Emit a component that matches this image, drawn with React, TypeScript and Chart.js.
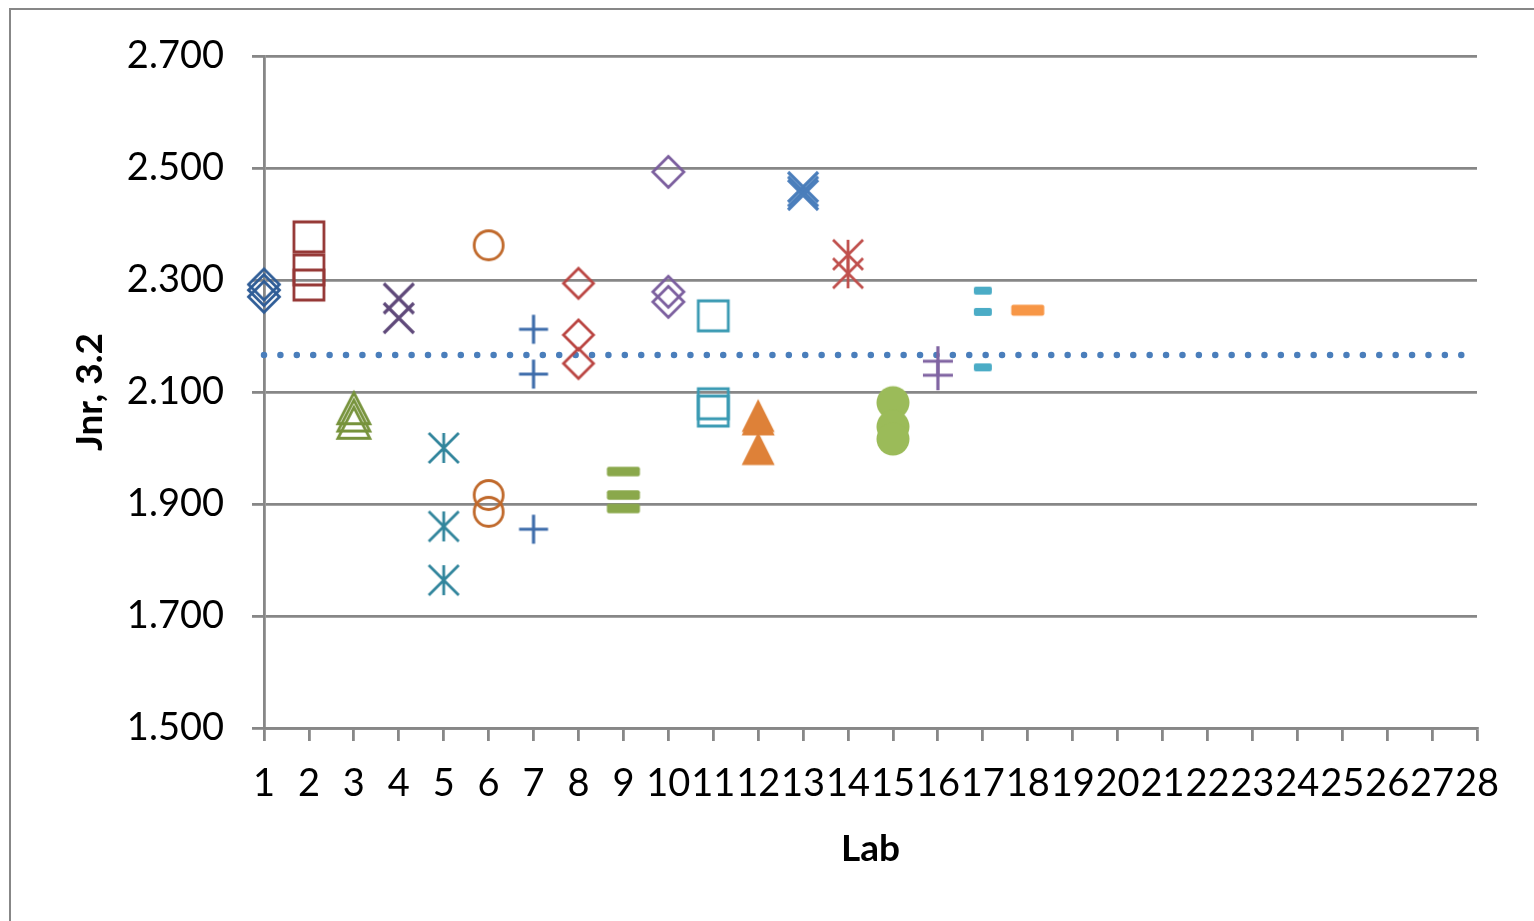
import React, { useEffect, useRef } from "react";
import { Chart, registerables } from "chart.js";

Chart.register(...registerables);

// ---- Data ----
const labNumbers = [1, 2, 3, 4, 5, 6, 7, 8, 9, 10, 11, 12, 13, 14, 15, 16, 17, 18];
const lab1 = [2.292, 2.282, 2.27];
const lab2 = [2.377, 2.318, 2.291];
const lab3 = [2.071, 2.058, 2.045];
const lab4 = [2.267, 2.232];
const lab5 = [2.0, 1.86, 1.764];
const lab6 = [2.362, 1.916, 1.886];
const lab7 = [2.212, 2.132, 1.855];
const lab8 = [2.294, 2.202, 2.151];
const lab9 = [1.958, 1.916, 1.892];
const lab10 = [2.493, 2.279, 2.261];
const lab11 = [2.236, 2.079, 2.066];
const lab12 = [2.058, 2.052, 1.999];
const lab13 = [2.466, 2.458, 2.452];
const lab14 = [2.345, 2.312];
const lab15 = [2.081, 2.038, 2.016];
const lab16 = [2.155, 2.13];
const lab17 = [2.281, 2.243, 2.144];
const lab18 = [2.246];
const labValues = [lab1, lab2, lab3, lab4, lab5, lab6, lab7, lab8, lab9, lab10, lab11, lab12, lab13, lab14, lab15, lab16, lab17, lab18];
const meanValue = 2.166;
const axisRangeX = [1, 28];
const axisRangeY = [1.5, 2.7];
const yStep = 0.2;

// ---- Marker styles (per lab) ----
type Kind = "diamond" | "square" | "triangle" | "x" | "star" | "circle" | "plus" | "dash";
interface MarkerStyle { kind: Kind; color: string; filled?: boolean; w?: number; h?: number; lw?: number; }
const markerStyles: MarkerStyle[] = [
  { kind: "diamond", color: "#2F5D97", w: 31, h: 31, lw: 2.8 },
  { kind: "square", color: "#953735", w: 30, h: 30, lw: 2.8 },
  { kind: "triangle", color: "#77933C", w: 32, h: 31, lw: 2.8 },
  { kind: "x", color: "#5F497A", w: 30, h: 30, lw: 3.2 },
  { kind: "star", color: "#31859C", w: 30, h: 30, lw: 2.8 },
  { kind: "circle", color: "#C0692B", w: 30, h: 30, lw: 2.8 },
  { kind: "plus", color: "#3E6DAB", w: 29, h: 29, lw: 3.2 },
  { kind: "diamond", color: "#BA4542", w: 30, h: 30, lw: 2.8 },
  { kind: "dash", color: "#8AA84B", w: 33, h: 9.5 },
  { kind: "diamond", color: "#7B5E9E", w: 31, h: 31, lw: 2.8 },
  { kind: "square", color: "#3A9AB3", w: 30, h: 30, lw: 2.8 },
  { kind: "triangle", color: "#DE8138", filled: true, w: 33, h: 33 },
  { kind: "x", color: "#4A7EBB", w: 30, h: 30, lw: 3.2 },
  { kind: "star", color: "#C0504D", w: 30, h: 30, lw: 2.8 },
  { kind: "circle", color: "#9BBB59", filled: true, w: 33, h: 33 },
  { kind: "plus", color: "#8064A2", w: 30, h: 30, lw: 3.2 },
  { kind: "dash", color: "#4BACC6", w: 18, h: 8 },
  { kind: "dash", color: "#F79646", w: 33, h: 11 },
];

function makeMarker(m: MarkerStyle): HTMLCanvasElement {
  const S = 44;
  const c = document.createElement("canvas");
  c.width = S;
  c.height = S;
  const ctx = c.getContext("2d")!;
  const cx = S / 2, cy = S / 2;
  const hw = (m.w || 30) / 2, hh = (m.h || 30) / 2;
  ctx.strokeStyle = m.color;
  ctx.fillStyle = m.color;
  ctx.lineWidth = m.lw || 2.5;
  ctx.lineJoin = "miter";
  ctx.lineCap = "butt";
  ctx.beginPath();
  switch (m.kind) {
    case "diamond":
      ctx.moveTo(cx, cy - hh);
      ctx.lineTo(cx + hw, cy);
      ctx.lineTo(cx, cy + hh);
      ctx.lineTo(cx - hw, cy);
      ctx.closePath();
      ctx.stroke();
      break;
    case "square":
      ctx.rect(cx - hw, cy - hh, hw * 2, hh * 2);
      ctx.stroke();
      break;
    case "triangle":
      ctx.moveTo(cx, cy - hh);
      ctx.lineTo(cx + hw, cy + hh);
      ctx.lineTo(cx - hw, cy + hh);
      ctx.closePath();
      if (m.filled) ctx.fill();
      else ctx.stroke();
      break;
    case "x":
      ctx.moveTo(cx - hw, cy - hh);
      ctx.lineTo(cx + hw, cy + hh);
      ctx.moveTo(cx + hw, cy - hh);
      ctx.lineTo(cx - hw, cy + hh);
      ctx.stroke();
      break;
    case "star":
      ctx.moveTo(cx - hw, cy - hh);
      ctx.lineTo(cx + hw, cy + hh);
      ctx.moveTo(cx + hw, cy - hh);
      ctx.lineTo(cx - hw, cy + hh);
      ctx.moveTo(cx, cy - hh);
      ctx.lineTo(cx, cy + hh);
      ctx.stroke();
      break;
    case "circle":
      ctx.arc(cx, cy, m.filled ? hw : hw - 0.5, 0, Math.PI * 2);
      if (m.filled) ctx.fill();
      else ctx.stroke();
      break;
    case "plus":
      ctx.moveTo(cx - hw, cy);
      ctx.lineTo(cx + hw, cy);
      ctx.moveTo(cx, cy - hh);
      ctx.lineTo(cx, cy + hh);
      ctx.stroke();
      break;
    case "dash": {
      const r = 2;
      const x0 = cx - hw, y0 = cy - hh, w = hw * 2, h = hh * 2;
      ctx.moveTo(x0 + r, y0);
      ctx.lineTo(x0 + w - r, y0);
      ctx.quadraticCurveTo(x0 + w, y0, x0 + w, y0 + r);
      ctx.lineTo(x0 + w, y0 + h - r);
      ctx.quadraticCurveTo(x0 + w, y0 + h, x0 + w - r, y0 + h);
      ctx.lineTo(x0 + r, y0 + h);
      ctx.quadraticCurveTo(x0, y0 + h, x0, y0 + h - r);
      ctx.lineTo(x0, y0 + r);
      ctx.quadraticCurveTo(x0, y0, x0 + r, y0);
      ctx.fill();
      break;
    }
  }
  return c;
}

const GRID = "#878787";
const FONT = "Lato, 'Open Sans', sans-serif";

export default function App() {
  const ref = useRef<HTMLCanvasElement | null>(null);

  useEffect(() => {
    if (!ref.current) return;
    const datasets: any[] = labNumbers.map((lab, i) => ({
      type: "scatter",
      label: "Lab " + lab,
      data: labValues[i].map((v) => ({ x: lab, y: v })),
      pointStyle: makeMarker(markerStyles[i]),
      pointRadius: 16,
      showLine: false,
      clip: false,
    }));
    datasets.push({
      type: "line",
      label: "Mean",
      data: [
        { x: axisRangeX[0], y: meanValue },
        { x: axisRangeX[1], y: meanValue },
      ],
      borderColor: "#4A7EBB",
      borderWidth: 6.5,
      borderDash: [0.001, 16.4],
      borderCapStyle: "round",
      pointRadius: 0,
      fill: false,
      clip: false,
    });

    const chart = new Chart(ref.current, {
      type: "scatter",
      data: { datasets },
      options: {
        responsive: false,
        animation: false,
        events: [],
        layout: { padding: { left: 0, top: 56, right: 57, bottom: 0 } },
        plugins: { legend: { display: false }, tooltip: { enabled: false } },
        scales: {
          x: {
            type: "linear",
            min: axisRangeX[0],
            max: axisRangeX[1],
            ticks: {
              stepSize: 1,
              autoSkip: false,
              maxRotation: 0,
              minRotation: 0,
              color: "#000",
              padding: 20,
              font: { family: FONT, size: 38 },
            },
            grid: { drawOnChartArea: false, drawTicks: true, tickLength: 13, color: GRID, lineWidth: 2.8 },
            border: { color: GRID, width: 2.8 },
            title: {
              display: true,
              text: "Lab",
              color: "#000",
              font: { family: FONT, size: 37, weight: "bold" },
              padding: { top: 0, bottom: 50 },
            },
            afterFit: (s: any) => {
              s.height = 193;
            },
          },
          y: {
            type: "linear",
            min: axisRangeY[0],
            max: axisRangeY[1],
            ticks: {
              stepSize: yStep,
              color: "#000",
              padding: 28,
              font: { family: FONT, size: 38 },
              callback: (v: any) => Number(v).toFixed(3),
            },
            grid: { color: GRID, lineWidth: 2.8, tickLength: 12 },
            border: { color: GRID, width: 2.8 },
            title: {
              display: true,
              text: "Jnr, 3.2",
              color: "#000",
              font: { family: FONT, size: 37, weight: "bold" },
              padding: { top: 68, bottom: 0 },
            },
            afterFit: (s: any) => {
              s.width = 264;
            },
          },
        },
      } as any,
    });
    return () => chart.destroy();
  }, []);

  return (
    <div style={{ position: "fixed", left: 0, top: 0, width: 1534, height: 921, background: "#fff", overflow: "hidden" }}>
      <div
        style={{
          position: "absolute",
          left: 9,
          top: 8,
          width: 2000,
          height: 2000,
          borderLeft: "2px solid #878787",
          borderTop: "2px solid #878787",
        }}
      />
      <canvas ref={ref} width={1534} height={921} style={{ position: "absolute", left: 0, top: 0, width: 1534, height: 921 }} />
    </div>
  );
}
